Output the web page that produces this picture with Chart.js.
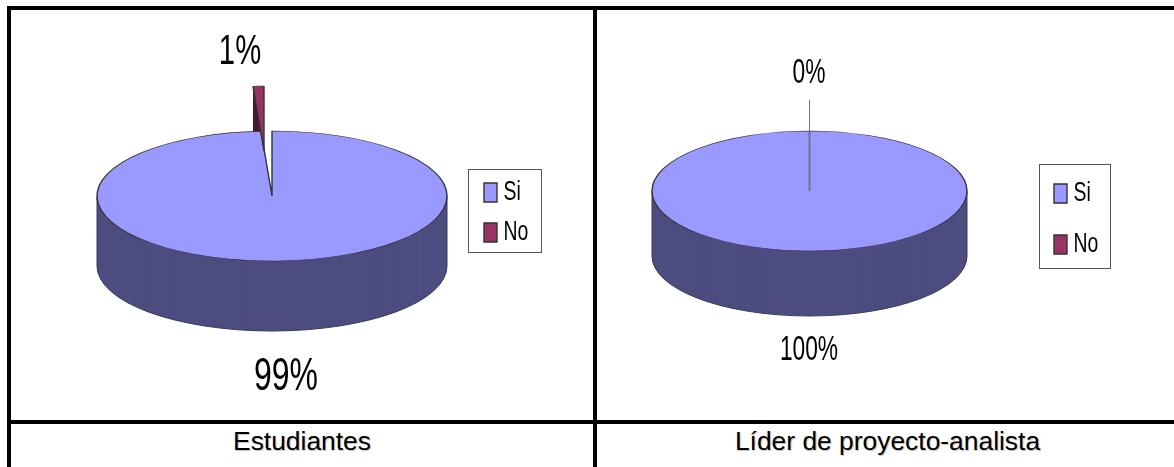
<!DOCTYPE html>
<html lang="es">
<head>
<meta charset="utf-8">
<script src="https://cdn.jsdelivr.net/npm/chart.js@4"></script>
<style>
html,body{margin:0;padding:0;background:#fff;width:1174px;height:467px;overflow:hidden}
.rule{position:absolute;background:#000}
.cap{position:absolute;top:424px;height:37px;font:26.4px/34px "Liberation Sans",Arial,sans-serif;color:#000;text-align:center;text-shadow:1px 1px 1px rgba(0,0,0,.25);white-space:nowrap}
.box{position:absolute;top:10px;height:410px}
canvas{display:block}
</style>
</head>
<body>
<div class="rule" style="left:7px;top:6px;width:1167px;height:4px"></div>
<div class="rule" style="left:7px;top:6px;width:4px;height:461px"></div>
<div class="rule" style="left:593px;top:6px;width:4px;height:461px"></div>
<div class="rule" style="left:7px;top:420px;width:1167px;height:4px"></div>
<div class="cap" id="cap0" style="left:11px;width:582px"></div>
<div class="cap" id="cap1" style="left:599px;width:577px"></div>
<div class="box" style="left:11px;width:582px"><canvas id="c0" width="582" height="410"></canvas></div>
<div class="box" style="left:597px;width:577px"><canvas id="c1" width="577" height="410"></canvas></div>
<script>
const categories = ['Si', 'No'];
const estudiantesValues = [99, 1];
const liderValues = [100, 0];
const groupNames = ['Estudiantes', 'Líder de proyecto-analista'];
const topColors = ['#9999FF', '#993366'];
const wallColors = ['#4D4D80', '#4D1A33'];

const layouts = [
  {origin:[11,10], cx:272, cy:196, rx:175, ry:65, depth:70, explode:[-8,-121],
   legendBox:[468,169,73,83], legendAt:[484,179], legendPad:13,
   labels:[{x:286,y:390,size:47,sx:.68},{x:240,y:64,size:43,sx:.68}], leader:null},
  {origin:[597,10], cx:809.5, cy:191, rx:157.5, ry:60, depth:65, explode:[0,0],
   legendBox:[1039,164,71,104], legendAt:[1054,180], legendPad:24,
   labels:[{x:809,y:360,size:35,sx:.65},{x:809,y:83,size:35,sx:.65}], leader:[809,100,191]}
];
const legendTextScale = 0.72, legendTextShift = -7;

const pie3d = {
  id:'pie3d',
  afterLayout(chart, args, o){
    const L = o.layout, ox = L.origin[0], oy = L.origin[1];
    const cx = L.cx-ox, cy = L.cy-oy, half = L.rx+10;
    const area = chart.chartArea;
    area.left = cx-half; area.right = cx+half;
    area.top = cy-half; area.bottom = cy+half;
    area.width = 2*half; area.height = 2*half;
    const g = chart.legend, w = g.width, h = g.height;
    g.left = L.legendAt[0]-ox-g.options.labels.padding; g.right = g.left+w;
    g.top = L.legendAt[1]-oy-g.options.labels.padding; g.bottom = g.top+h;
    if (!g.condensed) {
      g.condensed = true;
      const draw = g.draw.bind(g), ctx = chart.ctx;
      g.draw = function(){
        const real = ctx.fillText;
        ctx.fillText = function(t,x,y){
          ctx.save(); ctx.translate(x+legendTextShift,y); ctx.scale(legendTextScale,1);
          real.call(ctx,t,0,0); ctx.restore();
        };
        draw();
        delete ctx.fillText;
      };
    }
  },
  afterDatasetsUpdate(chart, args, o){
    const a = chart.getDatasetMeta(0).data[1];
    a.x += o.layout.explode[0];
    a.y += o.layout.explode[1];
  },
  beforeDatasetsDraw(chart, args, o){
    const L = o.layout, k = L.ry/L.rx, ctx = chart.ctx;
    const arcs = chart.getDatasetMeta(0).data;
    const c = arcs[0];
    const squash = d => {
      ctx.translate(c.x, c.y+d); ctx.scale(1,k); ctx.translate(-c.x,-c.y);
    };
    for (let i = arcs.length-1; i >= 0; i--) {
      const a = arcs[i];
      if (!a.circumference) continue;
      ctx.fillStyle = wallColors[i];
      for (let d = L.depth; d >= .5; d -= .5) {
        ctx.save(); squash(d);
        ctx.beginPath(); ctx.moveTo(a.x,a.y);
        ctx.arc(a.x,a.y,a.outerRadius,a.startAngle,a.endAngle);
        ctx.closePath(); ctx.fill(); ctx.restore();
      }
      if (i === 0) {
        ctx.strokeStyle = '#3a3a5c'; ctx.lineWidth = 1;
        ctx.beginPath();
        ctx.moveTo(a.x-a.outerRadius,a.y); ctx.lineTo(a.x-a.outerRadius,a.y+L.depth);
        ctx.ellipse(a.x,a.y+L.depth,a.outerRadius,L.ry,0,Math.PI,0,true);
        ctx.lineTo(a.x+a.outerRadius,a.y);
        ctx.stroke();
      }
    }
    ctx.save(); squash(0);
  },
  afterDatasetsDraw(chart){ chart.ctx.restore(); },
  afterDraw(chart, args, o){
    const L = o.layout, ox = L.origin[0], oy = L.origin[1], ctx = chart.ctx;
    ctx.save();
    ctx.strokeStyle = '#555'; ctx.lineWidth = 1;
    ctx.strokeRect(L.legendBox[0]-ox+.5, L.legendBox[1]-oy+.5, L.legendBox[2], L.legendBox[3]);
    if (L.leader) {
      ctx.strokeStyle = '#777';
      ctx.beginPath();
      ctx.moveTo(L.leader[0]-ox+.5, L.leader[1]-oy);
      ctx.lineTo(L.leader[0]-ox+.5, L.leader[2]-oy);
      ctx.stroke();
    }
    ctx.fillStyle = '#000'; ctx.textAlign = 'center'; ctx.textBaseline = 'alphabetic';
    chart.data.datasets[0].data.forEach((v,i) => {
      const t = L.labels[i];
      ctx.save();
      ctx.translate(t.x-ox, t.y-oy); ctx.scale(t.sx,1);
      ctx.font = t.size+'px "Liberation Sans", Arial, sans-serif';
      ctx.fillText(Math.round(v)+'%', 0, 0);
      ctx.restore();
    });
    ctx.restore();
  }
};

[estudiantesValues, liderValues].forEach((values, n) => {
  const L = layouts[n];
  document.getElementById('cap'+n).textContent = groupNames[n];
  new Chart(document.getElementById('c'+n), {
    type:'pie',
    data:{labels:categories, datasets:[{
      data:values,
      backgroundColor:topColors,
      borderColor:'#333',
      borderWidth:1.4,
      clip:false
    }]},
    options:{
      responsive:false, animation:false,
      radius:L.rx,
      plugins:{
        title:{display:false}, tooltip:{enabled:false},
        legend:{position:'right', align:'start',
          labels:{boxWidth:13, boxHeight:19, padding:L.legendPad, color:'#000',
            font:{family:'"Liberation Sans",Arial,sans-serif', size:27}}},
        pie3d:{layout:L}
      }
    },
    plugins:[pie3d]
  });
});
</script>
</body>
</html>
